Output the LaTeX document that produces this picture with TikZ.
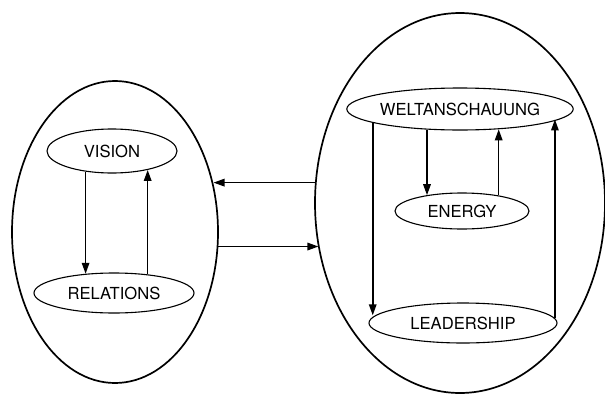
\documentclass[tikz,border=0pt]{standalone}
\usepackage{fontspec}
\setmainfont{TeX Gyre Heros}
\usetikzlibrary{shapes.geometric,arrows.meta}
\tikzset{
  big/.style={draw, ellipse, line width=1.7pt, inner sep=0pt},
  small/.style={draw, ellipse, line width=1.1pt, inner sep=0pt, font=\fontsize{16.6}{19}\selectfont},
  arr/.style={line width=1.6pt, -{Triangle[length=11pt,width=7.5pt]}}
}
\begin{document}
\begin{tikzpicture}[x=1pt,y=-1pt]
\path[use as bounding box] (0,0) rectangle (605,394);
% outer ellipses
\node[big, minimum width=206pt, minimum height=302pt] (left) at (115,232) {};
\node[big, minimum width=290pt, minimum height=380pt] (right) at (460,203) {};
% inner ellipses
\node[small, minimum width=130pt, minimum height=44pt] (vision) at (112,151) {VISION};
\node[small, minimum width=160pt, minimum height=40pt] (relations) at (114,293) {RELATIONS};
\node[small, minimum width=220pt, minimum height=42pt] (welt) at (460,109) {WELTANSCHAUUNG};
\node[small, minimum width=134pt, minimum height=36pt] (energy) at (462,211) {ENERGY};
\node[small, minimum width=188pt, minimum height=40pt] (lead) at (463,323) {LEADERSHIP};
% left arrows
\draw[arr] (vision.-142.2) -- (vision.-142.2 |- relations.146.3);
\draw[arr] (relations.29.8) -- (relations.29.8 |- vision.-28.9);
% between
\draw[arr] (right.172.5) -- (right.172.5 -| left.26.2);
\draw[arr] (left.-8.3) -- (left.-8.3 -| right.-162.7);
% right arrows
\draw[arr] (welt.-171.3) -- (welt.-171.3 |- lead.175.9);
\draw[arr] (lead.3.15) -- (lead.3.15 |- welt.-6.6);
\draw[arr] (welt.-148.8) -- (welt.-148.8 |- energy.156.3);
\draw[arr] (energy.23.7) -- (energy.23.7 |- welt.-28.1);
\end{tikzpicture}
\end{document}
